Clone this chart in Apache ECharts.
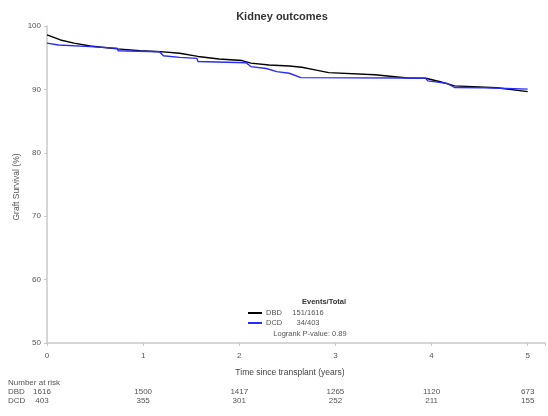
<!DOCTYPE html>
<html>
<head>
<meta charset="utf-8">
<script src="https://cdn.jsdelivr.net/npm/echarts@6/dist/echarts.min.js"></script>
<style>
  html, body { margin: 0; padding: 0; background: #fff; }
  #chart { width: 548px; height: 416px; }
</style>
</head>
<body>
<div id="chart"></div>
<script>
// Kaplan-Meier graft survival, [years, survival %]
const dbdCurve = [
  [0, 98.6], [0.14, 97.8], [0.28, 97.3], [0.45, 96.85], [0.73, 96.4], [0.97, 96.1],
  [1.18, 95.95], [1.38, 95.7], [1.57, 95.2], [1.79, 94.8], [2.03, 94.55], [2.12, 94.15],
  [2.31, 93.85], [2.52, 93.7], [2.65, 93.5], [2.80, 93.05], [2.93, 92.65], [3.41, 92.3],
  [3.75, 91.8], [3.94, 91.75], [4.09, 91.2], [4.24, 90.55], [4.68, 90.25], [5.0, 89.65]
];
const dcdCurve = [
  [0, 97.3], [0.12, 97.0], [0.45, 96.75], [0.73, 96.5], [0.74, 96.1], [1.17, 95.95],
  [1.21, 95.3], [1.38, 95.05], [1.56, 94.9], [1.57, 94.4], [2.07, 94.2], [2.12, 93.6],
  [2.28, 93.3], [2.39, 92.8], [2.52, 92.55], [2.54, 92.3], [2.64, 91.85], [3.75, 91.8],
  [3.94, 91.75], [3.96, 91.35], [4.16, 90.95], [4.24, 90.3], [4.55, 90.25], [5.0, 90.05]
];

// Number-at-risk table
const riskTimes = [0, 1, 2, 3, 4, 5];
const dbdAtRisk = [1616, 1500, 1417, 1265, 1120, 673];
const dcdAtRisk = [403, 355, 301, 252, 211, 155];

// Legend entries
const groupNames = ['DBD', 'DCD'];
const groupColors = ['#000000', '#2a2aff'];
const eventsTotal = ['151/1616', '34/403'];
const logrankText = 'Logrank P-value: 0.89';

const FONT = 'Liberation Sans';
const chart = echarts.init(document.getElementById('chart'));

chart.setOption({
  animation: false,
  backgroundColor: '#ffffff',
  title: {
    text: 'Kidney outcomes',
    left: 277, top: 6, textAlign: 'center',
    textStyle: { fontFamily: FONT, fontSize: 11, fontWeight: 'bold', color: '#333' }
  },
  grid: { left: 47, top: 26, height: 317, width: 500 },
  xAxis: {
    type: 'value', min: 0, max: 5.18, interval: 1,
    axisLine: { lineStyle: { color: '#c8c8c8', width: 1.5 } },
    axisTick: { show: true, length: 3, lineStyle: { color: '#c8c8c8' } },
    splitLine: { show: false },
    axisLabel: {
      margin: 9, fontFamily: FONT, fontSize: 8, color: '#555',
      formatter: v => (Number.isInteger(v) ? String(v) : '')
    }
  },
  yAxis: {
    type: 'value', min: 50, max: 100, interval: 10,
    axisLine: { show: true, lineStyle: { color: '#c8c8c8', width: 1.5 } },
    axisTick: { show: true, length: 3, lineStyle: { color: '#c8c8c8' } },
    splitLine: { show: false },
    axisLabel: { margin: 6, fontFamily: FONT, fontSize: 8, color: '#555' }
  },
  series: [
    {
      name: groupNames[0], type: 'line', data: dbdCurve, showSymbol: false,
      lineStyle: { color: groupColors[0], width: 1.4 }, z: 3
    },
    {
      name: groupNames[1], type: 'line', data: dcdCurve, showSymbol: false,
      lineStyle: { color: groupColors[1], width: 1.4 }, z: 4
    }
  ]
});

// Axis titles, legend block and number-at-risk table drawn as graphic text
const px = t => chart.convertToPixel({ gridIndex: 0 }, [t, 50])[0];
const txt = (x, y, s, opts = {}) => ({
  type: 'text', x, y,
  style: Object.assign({
    text: s, fontFamily: FONT, fontSize: 8, fill: '#555',
    align: 'left', verticalAlign: 'middle'
  }, opts)
});

const graphics = [];
graphics.push(txt(290, 373, 'Time since transplant (years)', { align: 'center', fontSize: 8.5, fill: '#444' }));
graphics.push({
  type: 'text', x: 17, y: 187, rotation: Math.PI / 2,
  style: { text: 'Graft Survival (%)', fontFamily: FONT, fontSize: 8.5, fill: '#555', align: 'center', verticalAlign: 'middle' }
});

// legend
graphics.push(txt(324, 302, 'Events/Total', { align: 'center', fontWeight: 'bold', fill: '#333', fontSize: 7.5 }));
groupNames.forEach((name, i) => {
  const y = 313 + i * 10;
  graphics.push({ type: 'line', shape: { x1: 248, y1: y, x2: 262, y2: y }, style: { stroke: groupColors[i], lineWidth: 2 } });
  graphics.push(txt(266, y, name, { fontSize: 7.5 }));
  graphics.push(txt(308, y, eventsTotal[i], { align: 'center', fontSize: 7.5 }));
});
graphics.push(txt(310, 334, logrankText, { align: 'center', fontSize: 7.5 }));

// number at risk
graphics.push(txt(8, 383, 'Number at risk', { fontSize: 8 }));
[[groupNames[0], dbdAtRisk, 392], [groupNames[1], dcdAtRisk, 401]].forEach(([name, vals, y]) => {
  graphics.push(txt(8, y, name, { fontSize: 8 }));
  vals.forEach((v, i) => {
    const x = px(riskTimes[i]) + (i === 0 ? -5 : 0);
    graphics.push(txt(x, y, String(v), { align: 'center', fontSize: 8 }));
  });
});

chart.setOption({ graphic: graphics });
</script>
</body>
</html>
